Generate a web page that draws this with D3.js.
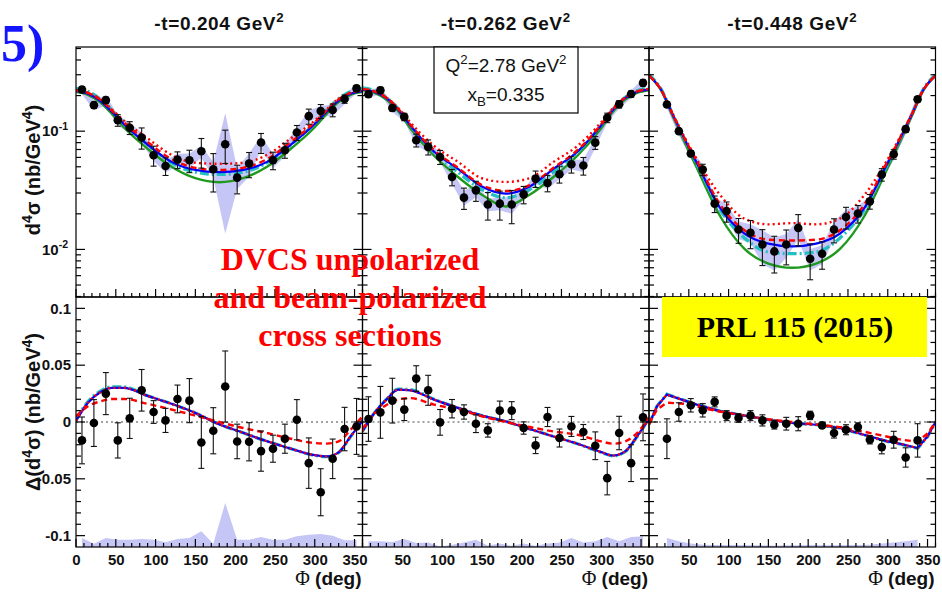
<!DOCTYPE html>
<html><head><meta charset="utf-8">
<script src="https://cdn.jsdelivr.net/npm/d3@7"></script>
<style>body{margin:0;background:#fff;} svg{display:block;}</style>
</head><body><svg id="c" width="942" height="596" font-family="Liberation Sans, Arial, Helvetica, sans-serif"></svg>
<script>
// ---------- DATA ----------
const phiBins = [7.5,22.5,37.5,52.5,67.5,82.5,97.5,112.5,127.5,142.5,157.5,172.5,187.5,202.5,217.5,232.5,247.5,262.5,277.5,292.5,307.5,322.5,337.5,352.5];
const phiBinsR = [22.5,37.5,52.5,67.5,82.5,97.5,112.5,127.5,142.5,157.5,172.5,187.5,202.5,217.5,232.5,247.5,262.5,277.5,292.5,307.5,322.5,337.5];
const phiGrid = [0,15,30,45,60,90,120,150,180,210,240,270,300,315,330,345,360];
const phiGridR = [0,10,22.5,45,60,90,120,150,180,210,240,270,300,315,337.5,350,360];

const panelTitles = ["0.204","0.262","0.448"];
const xTickLabelsFirst = [0,50,100,150,200,250,300,350];
const xTickLabelsOther = [50,100,150,200,250,300,350];
const yLinTicks = [-0.1,-0.05,0,0.05,0.1];
const yLogTicks = [0.01,0.1];

// top-left  (-t = 0.204)
const tlVal = [.225,.166,.183,.124,.107,.0885,.0626,.0508,.0575,.0568,.0677,.0476,.0776,.0405,.0532,.0802,.0568,.069,.0975,.134,.148,.151,.187,.23];
const tlErr = [.0135,.010,.011,.014,.0133,.018,.012,.0086,.0093,.0122,.019,.017,.0244,.011,.0128,.0154,.0096,.010,.0142,.0196,.020,.0187,.015,.0138];
const tlSys = [.02,.016,.018,.013,.011,.009,.007,.006,.007,.008,.008,.007,.064,.008,.012,.010,.008,.008,.010,.014,.016,.016,.018,.02];
const tlGreen = [.215,.203,.176,.140,.108,.071,.050,.040,.037,.040,.050,.071,.108,.140,.176,.203,.215];
const tlBlue  = [.218,.207,.181,.146,.115,.077,.055,.047,.045,.047,.055,.077,.115,.146,.181,.207,.218];
const tlCyan  = [.230,.217,.188,.151,.117,.077,.054,.045,.043,.045,.054,.077,.117,.151,.188,.217,.230];
const tlDash  = [.222,.211,.186,.150,.119,.081,.058,.049,.047,.049,.058,.081,.119,.150,.186,.211,.222];
const tlDot   = [.222,.211,.187,.153,.123,.087,.063,.054,.053,.054,.063,.087,.123,.153,.187,.211,.222];

// top-middle (-t = 0.262)
const tmVal = [.205,.222,.157,.132,.0839,.0736,.0605,.041,.0274,.0316,.024,.0244,.024,.0292,.0397,.0365,.0432,.0525,.0512,.080,.13,.169,.206,.256];
const tmErr = [.0123,.0133,.0094,.0094,.0104,.0107,.0082,.0065,.0056,.0061,.0063,.0067,.0075,.0049,.0063,.0058,.0068,.0083,.0087,.0099,.012,.012,.0124,.0154];
const tmSys = [.015,.016,.012,.011,.008,.008,.006,.005,.004,.004,.003,.003,.004,.003,.004,.004,.004,.005,.006,.008,.012,.014,.016,.02];
const tmGreen = [.222,.211,.185,.147,.106,.062,.041,.029,.0231,.029,.041,.062,.106,.147,.185,.211,.222];
const tmBlue  = [.225,.215,.190,.152,.112,.067,.048,.034,.0296,.034,.048,.067,.112,.152,.190,.215,.225];
const tmCyan  = [.232,.220,.193,.154,.113,.066,.045,.032,.0274,.032,.045,.066,.113,.154,.193,.220,.232];
const tmDash  = [.228,.217,.192,.154,.114,.069,.049,.035,.0312,.035,.049,.069,.114,.154,.192,.217,.228];
const tmDot   = [.228,.217,.193,.157,.119,.075,.055,.040,.0372,.040,.055,.075,.119,.157,.193,.217,.228];

// top-right (-t = 0.448)
const trVal = [.168,.1,.0647,.0473,.0244,.0211,.01476,.01384,.011,.00962,.011,.0152,.00834,.0092,.01476,.0188,.0201,.0255,.043,.0638,.104,.186];
const trErr = [.0084,.004,.0039,.0052,.0039,.0041,.0035,.0037,.0037,.0033,.0036,.0045,.0028,.0024,.0034,.0039,.0034,.0036,.0052,.0059,.0062,.0093];
const trSys = [.012,.008,.006,.005,.0035,.003,.0025,.0025,.0035,.003,.0025,.003,.0017,.0017,.0025,.003,.003,.003,.005,.007,.01,.016];
const trGreen = [.295,.222,.133,.080,.049,.0188,.0101,.0076,.0070,.0076,.0101,.0188,.049,.080,.133,.222,.295];
const trBlue  = [.295,.225,.137,.085,.054,.0221,.0136,.0112,.0106,.0112,.0136,.0221,.054,.085,.137,.225,.295];
const trCyan  = [.300,.228,.138,.085,.053,.0214,.0125,.0095,.0092,.0095,.0125,.0214,.053,.085,.138,.228,.300];
const trDash  = [.295,.225,.138,.086,.056,.0236,.0145,.0121,.0119,.0121,.0145,.0236,.056,.086,.138,.225,.295];
const trDot   = [.295,.225,.139,.088,.058,.0285,.0182,.0163,.0167,.0163,.0182,.0285,.058,.088,.139,.225,.295];

// bottom-left
const blVal = [-.0162,-.0009,.025,-.0162,.0032,.0279,.0088,.0014,.0203,.0188,-.018,-.0077,.0312,-.0171,-.0174,-.0256,-.0235,-.0147,.002,-.0362,-.0618,-.0324,-.0062,-.0039];
const blErr = [.0206,.0206,.0185,.0155,.0177,.0183,.010,.0106,.0122,.0194,.0228,.0203,.0313,.0152,.0168,.0177,.0119,.0128,.0177,.0222,.0207,.0174,.0191,.0246];
const blSys = [.0079,.0029,.0079,.0064,.0064,.007,.0064,.0041,.007,.0079,.0138,.0029,.0388,.0064,.0064,.0088,.0064,.0064,.0094,.0108,.0115,.010,.006,.006];
const blBlue = [.001,.017,.026,.030,.030,.023,.016,.008,-.002,-.0095,-.017,-.0235,-.0292,-.0303,-.0267,-.0127,.001];
const blCyan = [.002,.018,.027,.031,.031,.023,.016,.008,-.002,-.0095,-.017,-.0235,-.0295,-.0305,-.027,-.013,.002];
const blDot  = [.001,.017,.026,.030,.030,.023,.016,.008,-.002,-.0095,-.017,-.0235,-.0292,-.0303,-.0267,-.0127,.001];
const blDash = [.005,.0138,.018,.0203,.0203,.016,.011,.0056,.000,-.0053,-.0097,-.0147,-.0185,-.019,-.0171,-.0068,.005];

// bottom-middle
const bmVal = [.0026,.0085,.0188,.0109,.0382,.0279,-.0003,.0117,.0088,-.0015,-.0074,.01,.01,-.0053,-.0206,.0044,-.0141,-.0039,-.0088,-.0209,-.0494,-.0097,-.0362,.0041];
const bmErr = [.0196,.0228,.0197,.0096,.0113,.0132,.0113,.0081,.0063,.0078,.0059,.0084,.0079,.0054,.0072,.0084,.0079,.0088,.0066,.0122,.0147,.0147,.0162,.0206];
const bmSys = [.005,.005,.0045,.0071,.0035,.004,.0005,.002,.004,.0064,.0014,.003,.001,.003,.001,.003,.004,.0079,.004,.005,.0088,.005,.0088,.0094];
const bmBlue = [-.008,.0079,.0197,.0285,.0279,.0197,.0124,.0056,.0005,-.0062,-.0127,-.0191,-.0265,-.0295,-.0259,-.0127,.003];
const bmCyan = [-.008,.008,.020,.029,.0285,.020,.0124,.0056,.0005,-.0062,-.0127,-.0192,-.0268,-.0298,-.0262,-.013,.003];
const bmDot  = [-.008,.0079,.0197,.0285,.0279,.0197,.0124,.0056,.0005,-.0062,-.0127,-.0191,-.0265,-.0295,-.0259,-.0127,.003];
const bmDash = [-.006,.007,.015,.020,.021,.0153,.0109,.005,.000,-.0044,-.0083,-.0112,-.0171,-.0191,-.0171,-.0097,.004];

// bottom-right
const brVal = [-.0147,.0088,.0147,.0103,.0177,.0056,.0035,.0056,.0014,-.0024,-.0015,-.0015,.0058,-.003,-.0097,-.0068,-.0044,-.0156,-.0221,-.0156,-.0312,-.0162];
const brErr = [.0175,.0081,.0059,.0059,.0044,.0044,.0038,.0044,.0049,.0038,.0056,.0062,.0037,.0025,.0044,.0044,.0037,.0037,.0059,.0074,.0085,.0147];
const brSys = [.0079,.005,.003,.002,.0018,.0018,.0018,.0015,.0015,.0012,.0015,.0015,.0018,.0015,.0015,.0018,.0018,.002,.003,.004,.005,.0064];
const brBlue = [-.002,.0138,.0241,.0188,.0153,.0094,.0056,.002,-.0009,-.0024,-.0053,-.0112,-.0171,-.0191,-.023,-.0127,.000];
const brCyan = [-.002,.014,.0245,.019,.0155,.0095,.0056,.002,-.0009,-.0024,-.0053,-.0113,-.0173,-.0193,-.0233,-.013,.000];
const brDot  = [-.002,.0138,.0241,.0188,.0153,.0094,.0056,.002,-.0009,-.0024,-.0053,-.0112,-.0171,-.0191,-.023,-.0127,.000];
const brDash = [-.002,.011,.017,.016,.0135,.009,.0056,.0024,.000,-.002,-.0045,-.0085,-.013,-.0153,-.0175,-.010,.000];

// ---------- LAYOUT ----------
const SANS = "Liberation Sans, Arial, Helvetica, sans-serif";
const SERIF = "Liberation Serif, Times New Roman, serif";
const svg = d3.select("#c");
const panelX = [76,362.5,649], panelW = 286.5;
const topY = [47,297], botY = [297,547];
const yLog = d3.scaleLog().domain([0.00396,0.515]).range([topY[1],topY[0]]);
const yLin = d3.scaleLinear().domain([-0.11,0.11]).range([botY[1],botY[0]]);
const xs = panelX.map(p => d3.scaleLinear().domain([0,360]).range([p,p+panelW]));

const styles = {
  green:{stroke:"#1f9a1f",w:2.4,dash:null},
  cyan:{stroke:"#22c0c0",w:3.2,dash:"9,3,2,3"},
  blue:{stroke:"#0000ff",w:2.2,dash:null},
  dash:{stroke:"#ff0000",w:2.4,dash:"6,4"},
  dot:{stroke:"#ff0000",w:2.4,dash:"2,3.2"}
};
const bandColor = "#c6c6f6";

function rich(sel, parts, fs){
  let shift = 0;
  parts.forEach(([t,m]) => {
    const target = m===1 ? -0.42 : (m===2 ? 0.28 : 0);
    const ts = sel.append("tspan").text(t);
    const dy = (target - shift)*fs;
    if (dy !== 0) ts.attr("dy", dy);
    if (m) ts.attr("font-size", fs*0.7);
    shift = target;
  });
}

const topPanels = [
  {phi:phiBins, val:tlVal, err:tlErr, sys:tlSys, grid:phiGrid, c:{green:tlGreen,cyan:tlCyan,blue:tlBlue,dash:tlDash,dot:tlDot}},
  {phi:phiBins, val:tmVal, err:tmErr, sys:tmSys, grid:phiGrid, c:{green:tmGreen,cyan:tmCyan,blue:tmBlue,dash:tmDash,dot:tmDot}},
  {phi:phiBinsR, val:trVal, err:trErr, sys:trSys, grid:phiGrid, c:{green:trGreen,cyan:trCyan,blue:trBlue,dash:trDash,dot:trDot}}
];
const botPanels = [
  {phi:phiBins, val:blVal, err:blErr, sys:blSys, grid:phiGrid, curve:d3.curveMonotoneX, c:{cyan:blCyan,blue:blBlue,dash:blDash,dot:blDot}},
  {phi:phiBins, val:bmVal, err:bmErr, sys:bmSys, grid:phiGrid, curve:d3.curveMonotoneX, c:{cyan:bmCyan,blue:bmBlue,dash:bmDash,dot:bmDot}},
  {phi:phiBinsR, val:brVal, err:brErr, sys:brSys, grid:phiGridR, curve:d3.curveLinear, c:{cyan:brCyan,blue:brBlue,dash:brDash,dot:brDot}}
];

const defs = svg.append("defs");

function drawPanel(i, row, P){
  const x = xs[i];
  const isTop = row===0;
  const y = isTop ? yLog : yLin;
  const yr = isTop ? topY : botY;
  const id = "clip"+row+i;
  defs.append("clipPath").attr("id",id).append("rect")
    .attr("x",x.range()[0]).attr("y",yr[0]).attr("width",panelW).attr("height",yr[1]-yr[0]);
  const g = svg.append("g");
  const cg = g.append("g").attr("clip-path","url(#"+id+")");
  const pts = P.phi.map((p,k)=>({p, v:P.val[k], e:P.err[k], s:P.sys[k]}));

  if (isTop){
    cg.append("path").datum(pts).attr("fill",bandColor)
      .attr("d", d3.area().x(d=>x(d.p)).y0(d=>y(Math.max(d.v-d.s,1e-3))).y1(d=>y(d.v+d.s)));
  } else {
    cg.append("path").datum(pts).attr("fill",bandColor)
      .attr("d", d3.area().x(d=>x(d.p)).y0(y(-0.11)).y1(d=>y(-0.11+d.s)));
    cg.append("line").attr("x1",x(0)).attr("x2",x(360)).attr("y1",y(0)).attr("y2",y(0))
      .attr("stroke","#444").attr("stroke-width",1).attr("stroke-dasharray","2,3");
  }
  const order = isTop ? ["green","cyan","blue","dash","dot"] : ["cyan","blue","dash","dot"];
  order.forEach(k=>{
    const arr = P.c[k]; if(!arr) return;
    const st = styles[k];
    const line = d3.line().x((d,j)=>x(P.grid[j])).y(d=>y(d)).curve(P.curve || d3.curveMonotoneX);
    cg.append("path").datum(arr).attr("fill","none").attr("stroke",st.stroke)
      .attr("stroke-width",st.w).attr("stroke-dasharray",st.dash).attr("d",line);
  });
  const dg = g.append("g");
  pts.forEach(d=>{
    const lo = isTop ? Math.max(d.v-d.e,1e-3) : d.v-d.e, hi = d.v+d.e;
    const cx = x(d.p);
    dg.append("line").attr("x1",cx).attr("x2",cx).attr("y1",y(lo)).attr("y2",y(hi)).attr("stroke","#111").attr("stroke-width",1.1);
    [lo,hi].forEach(w=>dg.append("line").attr("x1",cx-3).attr("x2",cx+3).attr("y1",y(w)).attr("y2",y(w)).attr("stroke","#111").attr("stroke-width",1.1));
    dg.append("circle").attr("cx",cx).attr("cy",y(d.v)).attr("r",4.3).attr("fill","#000");
  });

  const fg = g.append("g").attr("stroke","#000").attr("stroke-width",1.2);
  fg.append("rect").attr("x",x.range()[0]).attr("y",yr[0]).attr("width",panelW).attr("height",yr[1]-yr[0]).attr("fill","none");
  d3.range(0,361,10).forEach(t=>{
    const len = t%50===0 ? 8 : 4;
    fg.append("line").attr("x1",x(t)).attr("x2",x(t)).attr("y1",yr[1]).attr("y2",yr[1]-len);
  });
  let yt;
  if (isTop){
    yt = [];
    [0.001,0.01,0.1].forEach(dec=>{ for(let m=1;m<10;m++){ const v=dec*m; if(v>=0.00396 && v<=0.515) yt.push({v, major:m===1}); } });
  } else {
    yt = d3.range(-10,11,1).map(k=>({v:k/100, major:k%5===0}));
  }
  const xl = x.range()[0], xr = x.range()[1];
  yt.forEach(t=>{
    const len = t.major ? 9 : 5, yy = y(t.v);
    fg.append("line").attr("x1",xl).attr("x2",xl+len).attr("y1",yy).attr("y2",yy);
    fg.append("line").attr("x1",xr).attr("x2",xr-len).attr("y1",yy).attr("y2",yy);
  });
}

[0,1,2].forEach(i=>{ drawPanel(i,0,topPanels[i]); drawPanel(i,1,botPanels[i]); });

// x axes labels
[0,1,2].forEach(i=>{
  const ax = d3.axisBottom(xs[i]).tickValues(i===0?xTickLabelsFirst:xTickLabelsOther).tickSize(0).tickPadding(7);
  const g = svg.append("g").attr("transform","translate(0,"+botY[1]+")").call(ax);
  g.select(".domain").remove();
  g.attr("font-family",SANS).attr("font-size",15);
  g.selectAll("text").attr("font-weight","bold").attr("fill","#111");
  const t = svg.append("text").attr("x",xs[i].range()[1]-1).attr("y",585).attr("text-anchor","end")
    .attr("font-size",19).attr("font-weight","bold").attr("fill","#111");
  t.append("tspan").attr("font-family",SERIF).attr("font-weight","normal").attr("font-size",20).text("Φ");
  t.append("tspan").text(" (deg)");
});

// y axes labels
{
  const ax = d3.axisLeft(yLin).tickValues(yLinTicks).tickSize(0).tickPadding(5).tickFormat(d=>d===0?"0":String(d));
  const g = svg.append("g").attr("transform","translate("+panelX[0]+",0)").call(ax);
  g.select(".domain").remove();
  g.attr("font-family",SANS).attr("font-size",15);
  g.selectAll("text").attr("font-weight","bold").attr("fill","#111");
  const ax2 = d3.axisLeft(yLog).tickValues(yLogTicks).tickSize(0).tickPadding(8).tickFormat(()=>"");
  const g2 = svg.append("g").attr("transform","translate("+panelX[0]+",0)").call(ax2);
  g2.select(".domain").remove();
  g2.attr("font-family",SANS).attr("font-size",15);
  g2.selectAll("text").attr("font-weight","bold").attr("fill","#111")
    .each(function(d){ const s=d3.select(this); rich(s,[["10",0],[String(Math.round(Math.log10(d))),1]],15); });
}

// y titles
{
  const t1 = svg.append("text").attr("transform","translate(40,170) rotate(-90)").attr("text-anchor","middle")
    .attr("font-size",20).attr("font-weight","bold").attr("fill","#111");
  rich(t1,[["d",0],["4",1],["σ",0],[" (nb/GeV",0],["4",1],[")",0]],20);
  const t2 = svg.append("text").attr("transform","translate(40,412) rotate(-90)").attr("text-anchor","middle")
    .attr("font-size",20).attr("font-weight","bold").attr("fill","#111");
  rich(t2,[["Δ(d",0],["4",1],["σ)",0],[" (nb/GeV",0],["4",1],[")",0]],20);
}

// panel titles
panelTitles.forEach((tv,i)=>{
  const t = svg.append("text").attr("x",panelX[i]+panelW/2).attr("y",30).attr("text-anchor","middle")
    .attr("font-size",19).attr("font-weight","bold").attr("fill","#111").attr("letter-spacing",0.6);
  rich(t,[["-t="+tv+" GeV",0],["2",1]],19);
});

// kinematics box
svg.append("rect").attr("x",434).attr("y",47).attr("width",144).attr("height",66).attr("fill","#fff").attr("stroke","#000").attr("stroke-width",1.2);
{
  const a = svg.append("text").attr("x",506).attr("y",72).attr("text-anchor","middle").attr("font-size",19).attr("fill","#111");
  rich(a,[["Q",0],["2",1],["=2.78 GeV",0],["2",1]],19);
  const b = svg.append("text").attr("x",506).attr("y",101).attr("text-anchor","middle").attr("font-size",19).attr("fill","#111");
  rich(b,[["x",0],["B",2],["=0.335",0]],19);
}

// annotations
svg.append("text").attr("x",1).attr("y",61).attr("text-anchor","start").attr("font-family",SERIF)
  .attr("font-weight","bold").attr("font-size",52).attr("fill","#1414ff").text("5)");
["DVCS unpolarized","and beam-polarized","cross sections"].forEach((s,k)=>{
  svg.append("text").attr("x",350).attr("y",270+38*k).attr("text-anchor","middle").attr("font-family",SERIF)
    .attr("font-weight","bold").attr("font-size",32).attr("fill","#ff0000").text(s);
});
svg.append("rect").attr("x",662).attr("y",297).attr("width",265).attr("height",60).attr("fill","#ffff00");
svg.append("text").attr("x",795).attr("y",337).attr("text-anchor","middle").attr("font-family",SERIF)
  .attr("font-weight","bold").attr("font-size",30).attr("fill","#000").text("PRL 115 (2015)");
</script></body></html>
